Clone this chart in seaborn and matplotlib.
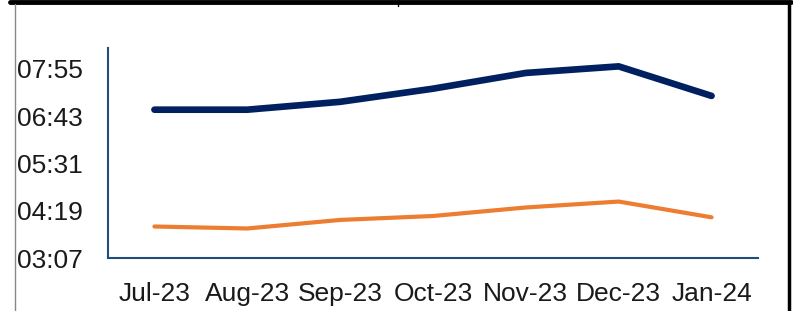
import matplotlib
matplotlib.use("Agg")
import matplotlib.pyplot as plt
import seaborn as sns
import pandas as pd
from matplotlib.lines import Line2D

months = ["Jul-23", "Aug-23", "Sep-23", "Oct-23", "Nov-23", "Dec-23", "Jan-24"]
navy_vals = [413, 413, 425, 445, 469, 479, 434]
orange_vals = [235, 232, 245, 251, 264, 273, 249]
y_ticks = [187, 259, 331, 403, 475]
y_labels = ["03:07", "04:19", "05:31", "06:43", "07:55"]

sns.set_theme(style="white")
plt.rcParams['font.family'] = ['Liberation Sans', 'DejaVu Sans']

df = pd.DataFrame({
    "month": months * 2,
    "value": navy_vals + orange_vals,
    "series": ["A"] * len(months) + ["B"] * len(months),
})
df["x"] = list(range(len(months))) * 2

fig = plt.figure(figsize=(7.93, 3.11), dpi=100)
ax = fig.add_axes([108/793, 53/311, 650/793, 210/311])

sns.lineplot(data=df, x="x", y="value", hue="series",
             palette={"A": "#002060", "B": "#ED7D31"}, ax=ax, legend=False,
             solid_capstyle="round")
for line, lw in zip(ax.lines, [4.8, 3.0]):
    line.set_linewidth(lw)

ax.set_xlim(-0.5, 6.5)
ax.set_ylim(187, 507)
ax.set_xticks(range(len(months)))
ax.set_xticklabels(months)
ax.set_yticks(y_ticks)
ax.set_yticklabels(y_labels)
ax.set_xlabel("")
ax.set_ylabel("")
ax.tick_params(axis="both", length=0, labelsize=19, colors="#1a1a1a")
ax.tick_params(axis="x", pad=17)
for lab in ax.get_yticklabels():
    lab.set_horizontalalignment("left")
    lab.set_transform(ax.get_yaxis_transform())
    lab.set_position((-(108-17)/650, lab.get_position()[1]))

for s in ["top", "right"]:
    ax.spines[s].set_visible(False)
for s in ["left", "bottom"]:
    ax.spines[s].set_color("#1F4E79")
    ax.spines[s].set_linewidth(1.5)

# frame lines
fig.add_artist(Line2D([10/793, 791/793], [1 - 2/311, 1 - 2/311], color="black", lw=3.5, transform=fig.transFigure))
fig.add_artist(Line2D([398/793, 398/793], [1 - 6/311, 1.0], color="black", lw=1.0, transform=fig.transFigure))
fig.add_artist(Line2D([15/793, 15/793], [0, 1 - 4/311], color="#888888", lw=1.0, transform=fig.transFigure))
fig.add_artist(Line2D([789/793, 789/793], [0, 1 - 4/311], color="black", lw=2.5, transform=fig.transFigure))

fig.savefig("out.png", dpi=100)
